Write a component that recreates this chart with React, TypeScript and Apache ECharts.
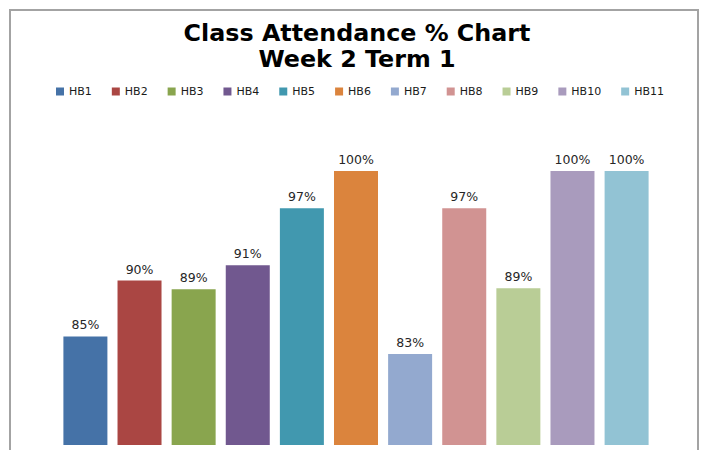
import React, { useEffect, useRef } from "react";
import * as echarts from "echarts";

const titleText = "Class Attendance % Chart\nWeek 2 Term 1";
const seriesNames = ["HB1", "HB2", "HB3", "HB4", "HB5", "HB6", "HB7", "HB8", "HB9", "HB10", "HB11"];
const attendance = [84.9, 90.0, 89.2, 91.4, 96.6, 100, 83.3, 96.6, 89.3, 100, 100];
const colors = ["#4572a7", "#aa4643", "#89a54e", "#71588f", "#4198af", "#db843d", "#93a9cf", "#d19392", "#b9cd96", "#a99bbd", "#92c3d4"];
const categories = ["Week 2 Term 1"];

export default function App() {
  const ref = useRef<HTMLDivElement>(null);
  useEffect(() => {
    if (!ref.current) return;
    const chart = echarts.init(ref.current, null, { renderer: "svg" });
    chart.setOption({
      animation: false,
      backgroundColor: "#ffffff",
      color: colors,
      title: {
        text: titleText,
        left: 352,
        top: 15,
        textAlign: "center",
        textStyle: { fontFamily: "DejaVu Sans", fontWeight: "bold", fontSize: 23.8, lineHeight: 26, color: "#000" },
      },
      legend: {
        data: seriesNames,
        top: 81,
        left: 51,
        icon: "rect",
        itemWidth: 8,
        itemHeight: 8,
        itemGap: 20,
        textStyle: { fontFamily: "DejaVu Sans", fontSize: 11, color: "#1a1a1a" },
      },
      graphic: [
        {
          type: "rect",
          shape: { x: 10, y: 10, width: 688, height: 470 },
          style: { fill: "none", stroke: "#a3a3a3", lineWidth: 2 },
          silent: true,
        },
      ],
      grid: { left: 58, right: 48, top: 171, bottom: 5 },
      xAxis: {
        type: "category",
        data: categories,
        show: false,
      },
      yAxis: {
        type: "value",
        min: 75,
        max: 100,
        show: false,
      },
      series: seriesNames.map((name, i) => ({
        name,
        type: "bar",
        barWidth: 44,
        barGap: "23%",
        data: [attendance[i]],
        itemStyle: { color: colors[i] },
        label: {
          show: true,
          position: "top",
          distance: 5,
          fontFamily: "DejaVu Sans",
          fontSize: 12.5,
          color: "#262626",
          formatter: (p: any) => Math.round(p.value) + "%",
        },
      })),
    });
    return () => chart.dispose();
  }, []);
  return <div ref={ref} style={{ position: "fixed", left: 0, top: 0, width: 702, height: 450 }} />;
}
